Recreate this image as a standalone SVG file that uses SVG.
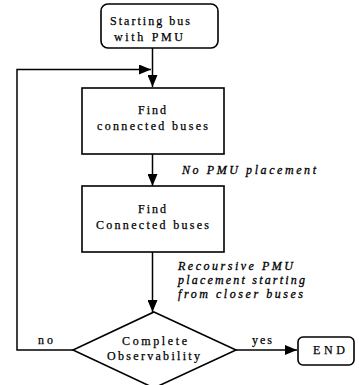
<svg xmlns="http://www.w3.org/2000/svg" width="359" height="385" viewBox="0 0 359 385">
  <style>
    .box { fill: #fff; stroke: #000; stroke-width: 1.6; }
    .lbl { font-family: "Liberation Serif", "Times New Roman", serif; font-size: 12px; fill: #000; stroke: #000; stroke-width: 0.25; text-anchor: middle; }
    .note { font-family: "Liberation Serif", "Times New Roman", serif; font-size: 12px; font-style: italic; fill: #000; stroke: #000; stroke-width: 0.3; }
    .wire { fill: none; stroke: #000; stroke-width: 1.5; }
  </style>
  <defs>
    <marker id="arrow" viewBox="0 0 12 10" refX="12" refY="5" markerWidth="12" markerHeight="10" markerUnits="userSpaceOnUse" orient="auto">
      <path d="M0,0 L12,5 L0,10 Z" fill="#000"/>
    </marker>
  </defs>
  <rect width="359" height="385" fill="#fff"/>

  <g id="connectors">
    <line class="wire" x1="152.5" y1="48" x2="152.5" y2="87" marker-end="url(#arrow)"/>
    <line class="wire" x1="152.5" y1="154" x2="152.5" y2="186" marker-end="url(#arrow)"/>
    <line class="wire" x1="152.5" y1="252" x2="152.5" y2="312" marker-end="url(#arrow)"/>
    <polyline class="wire" points="73,350 17,350 17,69.5 151,69.5" marker-end="url(#arrow)"/>
    <line class="wire" x1="236" y1="350" x2="297" y2="350" marker-end="url(#arrow)"/>
    <text class="note" x="182" y="174" textLength="134" lengthAdjust="spacing">No PMU placement</text>
    <text class="note" x="178" y="270" textLength="115" lengthAdjust="spacing">Recoursive PMU</text>
    <text class="note" x="178" y="284" textLength="127" lengthAdjust="spacing">placement starting</text>
    <text class="note" x="178" y="298" textLength="125" lengthAdjust="spacing">from closer buses</text>
    <text class="lbl" x="45.5" y="344" textLength="15" lengthAdjust="spacing">no</text>
    <text class="lbl" x="262" y="344" textLength="20" lengthAdjust="spacing">yes</text>
  </g>

  <g id="start">
    <rect class="box" x="101" y="4" width="117" height="44" rx="7"/>
    <text class="lbl" x="150" y="25" textLength="80" lengthAdjust="spacing">Starting bus</text>
    <text class="lbl" x="148.5" y="41" textLength="69" lengthAdjust="spacing">with PMU</text>
  </g>

  <g id="find1">
    <rect class="box" x="82" y="88" width="142" height="66"/>
    <text class="lbl" x="152" y="114" textLength="28" lengthAdjust="spacing">Find</text>
    <text class="lbl" x="152.5" y="130" textLength="111" lengthAdjust="spacing">connected buses</text>
  </g>

  <g id="find2">
    <rect class="box" x="82" y="186" width="142" height="66"/>
    <text class="lbl" x="152" y="213" textLength="28" lengthAdjust="spacing">Find</text>
    <text class="lbl" x="152.5" y="229" textLength="113" lengthAdjust="spacing">Connected buses</text>
  </g>

  <g id="check">
    <polygon class="box" points="154,312 236,350 154,388 73,350"/>
    <text class="lbl" x="154.5" y="345" textLength="65" lengthAdjust="spacing">Complete</text>
    <text class="lbl" x="153.5" y="360" textLength="93" lengthAdjust="spacing">Observability</text>
  </g>

  <g id="end">
    <rect class="box" x="298" y="337" width="56" height="28" rx="5"/>
    <text class="lbl" x="329" y="354" textLength="32" lengthAdjust="spacing">END</text>
  </g>
</svg>
